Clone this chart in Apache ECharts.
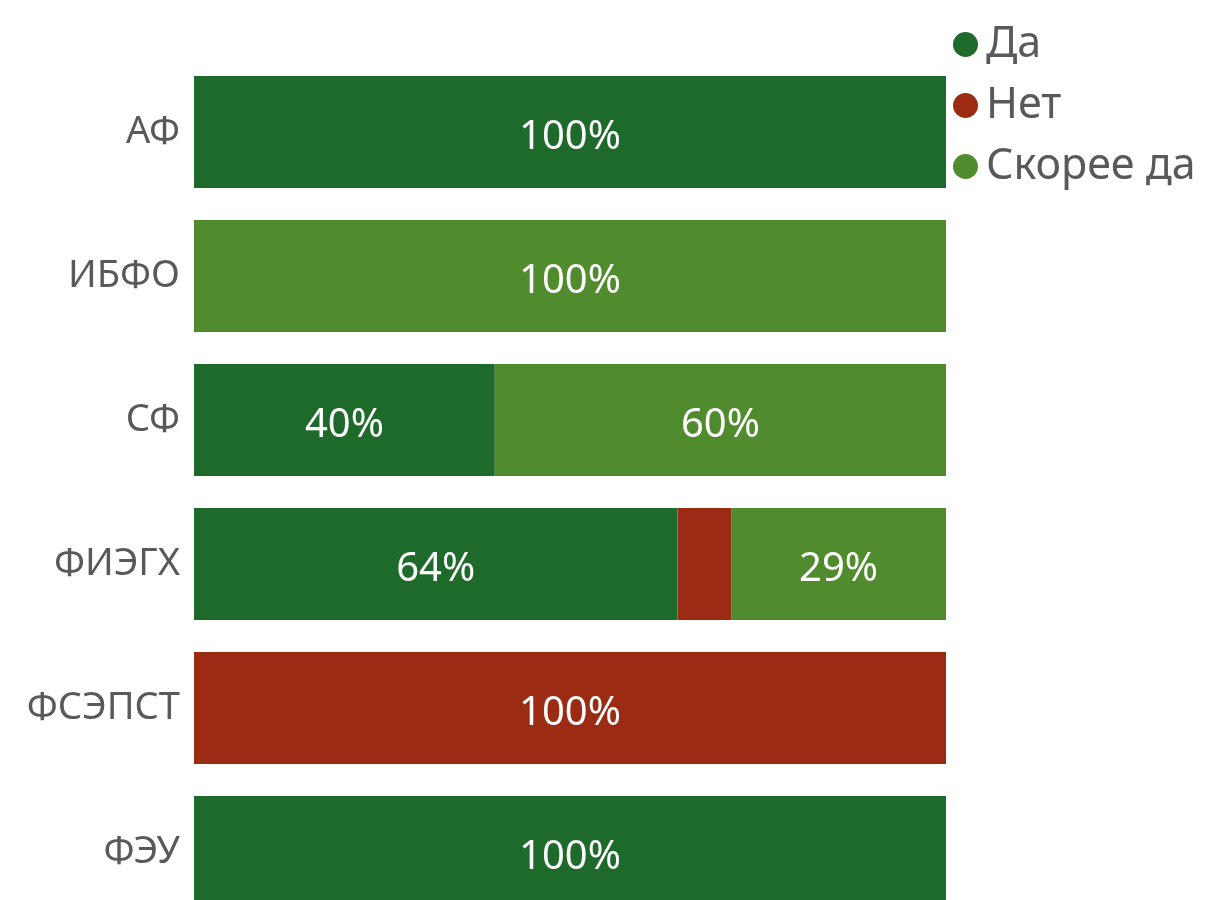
<!DOCTYPE html>
<html><head><meta charset="utf-8">
<script src="https://cdn.jsdelivr.net/npm/echarts@6/dist/echarts.min.js"></script>
<style>html,body{margin:0;padding:0;background:#fff;overflow:hidden}#c{width:1211px;height:924px}</style>
</head><body><div id="c"></div>
<script>
const categories = ['АФ', 'ИБФО', 'СФ', 'ФИЭГХ', 'ФСЭПСТ', 'ФЭУ'];
const seriesNames = ['Да', 'Нет', 'Скорее да'];
const valuesDa = [100, 0, 40, 64.29, 0, 100];
const valuesNet = [0, 0, 0, 7.14, 100, 0];
const valuesSkoreeDa = [0, 100, 60, 28.57, 0, 0];
const colors = ['#1e6a2b', '#9b2b13', '#508c2e'];

const font = 'Noto Sans';
const chart = echarts.init(document.getElementById('c'));
const mk = (name, data, color) => ({
  name, type: 'bar', stack: 'total', data,
  barWidth: 112,
  itemStyle: { color },
  label: {
    show: true, position: 'inside', color: '#fff', fontFamily: font, fontSize: 40,
    offset: [0, 6],
    formatter: p => (p.value >= 10 ? Math.round(p.value) + '%' : '')
  },
  emphasis: { disabled: true }
});
chart.setOption({
  animation: false,
  textStyle: { fontFamily: font },
  legend: {
    orient: 'vertical', left: 948, top: 18,
    icon: 'circle', itemWidth: 25, itemHeight: 25, itemGap: 18,
    textStyle: { fontFamily: font, fontSize: 43, color: '#595959', padding: [0, 0, 0, 3] },
    data: seriesNames
  },
  grid: { left: 194, right: 265, top: 60, bottom: 0, containLabel: false },
  xAxis: { type: 'value', min: 0, max: 100, show: false },
  yAxis: {
    type: 'category', data: categories, inverse: true,
    axisLine: { show: false }, axisTick: { show: false },
    axisLabel: { fontFamily: font, fontSize: 38, color: '#595959', margin: 14 }
  },
  series: [
    mk(seriesNames[0], valuesDa, colors[0]),
    mk(seriesNames[1], valuesNet, colors[1]),
    mk(seriesNames[2], valuesSkoreeDa, colors[2])
  ]
});
</script></body></html>
